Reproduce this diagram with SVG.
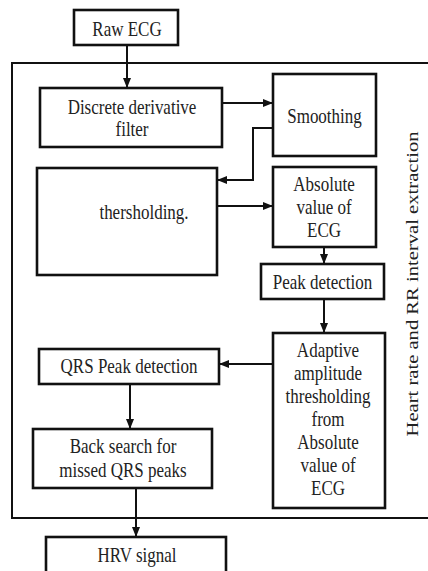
<svg xmlns="http://www.w3.org/2000/svg" width="428" height="571" viewBox="0 0 428 571">
<style>
.box{fill:#fff;stroke:#111;stroke-width:2.6}
.frame{fill:none;stroke:#111;stroke-width:2}
.t{font-family:"Liberation Serif","Times New Roman",serif;font-size:20px;fill:#222;text-anchor:middle}
.side{font-family:"Liberation Serif","Times New Roman",serif;font-size:17px;fill:#222;text-anchor:middle}
.c{fill:none;stroke:#111;stroke-width:2}
</style>
<defs>
<marker id="ah" markerUnits="userSpaceOnUse" markerWidth="10" markerHeight="8" refX="9" refY="4" orient="auto">
<path d="M0,0 L10,4 L0,8 Z" fill="#111"/>
</marker>
</defs>
<rect width="428" height="571" fill="#fff"/>
<g id="frame">
<polyline class="frame" points="432,63 12,63 12,518 432,518"/>
<text class="side" transform="translate(418,284) rotate(-90)" textLength="305" lengthAdjust="spacingAndGlyphs">Heart rate and RR interval extraction</text>
</g>
<g id="connectors">
<line class="c" x1="127" y1="45" x2="127" y2="87" marker-end="url(#ah)"/>
<line class="c" x1="222" y1="103" x2="272" y2="103" marker-end="url(#ah)"/>
<polyline class="c" points="273,128 253,128 253,180 218,180" marker-end="url(#ah)"/>
<line class="c" x1="217" y1="206" x2="272" y2="206" marker-end="url(#ah)"/>
<line class="c" x1="324" y1="247" x2="324" y2="263" marker-end="url(#ah)"/>
<line class="c" x1="324" y1="299" x2="324" y2="332" marker-end="url(#ah)"/>
<line class="c" x1="273" y1="364" x2="220" y2="364" marker-end="url(#ah)"/>
<line class="c" x1="130" y1="384" x2="130" y2="428" marker-end="url(#ah)"/>
<line class="c" x1="136" y1="488" x2="136" y2="536" marker-end="url(#ah)"/>
</g>
<g id="raw">
<rect class="box" x="74" y="10" width="104" height="35"/>
<g transform="translate(127,36) scale(0.85,1)"><text class="t">Raw ECG</text></g>
</g>
<g id="derivative">
<rect class="box" x="40" y="88" width="182" height="59"/>
<g transform="translate(132,114) scale(0.85,1)"><text class="t">Discrete derivative</text></g>
<g transform="translate(132,136) scale(0.85,1)"><text class="t">filter</text></g>
</g>
<g id="smoothing">
<rect class="box" x="273" y="74" width="103" height="82"/>
<g transform="translate(324.5,123) scale(0.85,1)"><text class="t">Smoothing</text></g>
</g>
<g id="thresholding">
<rect class="box" x="37" y="168" width="180" height="107"/>
<g transform="translate(144,219) scale(0.85,1)"><text class="t">thersholding.</text></g>
</g>
<g id="absolute">
<rect class="box" x="273" y="167" width="103" height="80"/>
<g transform="translate(324,191) scale(0.85,1)"><text class="t">Absolute</text></g>
<g transform="translate(324,214) scale(0.85,1)"><text class="t">value of</text></g>
<g transform="translate(324,237) scale(0.85,1)"><text class="t">ECG</text></g>
</g>
<g id="peak">
<rect class="box" x="261" y="264" width="123" height="35"/>
<g transform="translate(322.5,289) scale(0.85,1)"><text class="t">Peak detection</text></g>
</g>
<g id="adaptive">
<rect class="box" x="273" y="333" width="112" height="175"/>
<g transform="translate(328,357) scale(0.85,1)"><text class="t">Adaptive</text></g>
<g transform="translate(328,380) scale(0.85,1)"><text class="t">amplitude</text></g>
<g transform="translate(328,403) scale(0.85,1)"><text class="t">thresholding</text></g>
<g transform="translate(328,426) scale(0.85,1)"><text class="t">from</text></g>
<g transform="translate(328,449) scale(0.85,1)"><text class="t">Absolute</text></g>
<g transform="translate(328,472) scale(0.85,1)"><text class="t">value of</text></g>
<g transform="translate(328,495) scale(0.85,1)"><text class="t">ECG</text></g>
</g>
<g id="qrs">
<rect class="box" x="39" y="349" width="180" height="35"/>
<g transform="translate(129,373) scale(0.85,1)"><text class="t">QRS Peak detection</text></g>
</g>
<g id="backsearch">
<rect class="box" x="33" y="429" width="179" height="59"/>
<g transform="translate(123,453) scale(0.85,1)"><text class="t">Back search for</text></g>
<g transform="translate(123,477) scale(0.85,1)"><text class="t">missed QRS peaks</text></g>
</g>
<g id="hrv">
<rect class="box" x="46" y="537" width="180" height="45"/>
<g transform="translate(137,562) scale(0.85,1)"><text class="t">HRV signal</text></g>
</g>
</svg>
